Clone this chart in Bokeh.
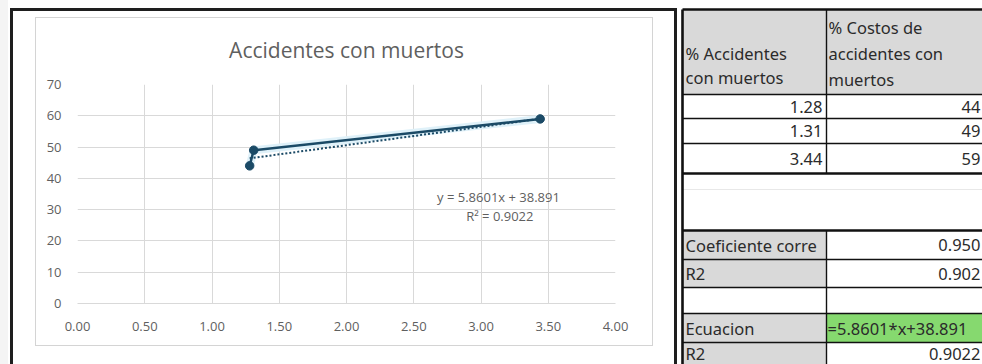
from bokeh.plotting import figure
from bokeh.models import Range1d, FixedTicker, Label, ColumnDataSource
from bokeh.layouts import row, column
from bokeh.core.properties import value
from bokeh.embed import file_html
from bokeh.resources import INLINE

# ---------------- data ----------------
acc_pct = [1.28, 1.31, 3.44]          # % Accidentes con muertos
cost_pct = [44, 49, 59]               # % Costos de accidentes con muertos
trend_slope = 5.8601
trend_intercept = 38.891
trend_r2 = 0.9022

x_ticks = [0.0, 0.5, 1.0, 1.5, 2.0, 2.5, 3.0, 3.5, 4.0]
x_tick_labels = ["0.00", "0.50", "1.00", "1.50", "2.00", "2.50", "3.00", "3.50", "4.00"]
y_ticks = [0, 10, 20, 30, 40, 50, 60, 70]
y_tick_labels = ["0", "10", "20", "30", "40", "50", "60", "70"]

title_text = "Accidentes con muertos"
header_a = ["% Accidentes", "con muertos"]
header_b = ["% Costos de", "accidentes con", "muertos"]
stat_labels = ["Coeficiente corre", "R2", "", "Ecuacion", "R2"]
stat_values = ["0.950", "0.902", "", "=5.8601*x+38.891", "0.9022"]

# ---------------- styles ----------------
SERIES = "#1b4a66"
GRID = "#d9d9d9"
TXT = "#5f5f5f"
FONT = "Open Sans"
TFONT = "Noto Sans"

CW, CH = 677, 364
# frame lines painted behind a transparent canvas: (x, y, w, h, colour)
frame_bars = [
    (10, 8, 3, 360, "#1e1e1e"), (10, 8, 667, 3, "#1e1e1e"), (674, 8, 3, 360, "#1e1e1e"),
    (35, 17, 618, 1, "#d4d4d4"), (35, 345, 618, 1, "#d4d4d4"),
    (35, 17, 1, 329, "#d4d4d4"), (652, 17, 1, 329, "#d4d4d4"),
    (0, 0, 8, 364, "#f4f4f4"),
]
bg_styles = {
    "background-color": "white",
    "background-image": ", ".join(f"linear-gradient({c},{c})" for *_, c in frame_bars),
    "background-position": ", ".join(f"{x}px {y}px" for x, y, *_ in frame_bars),
    "background-size": ", ".join(f"{w}px {h}px" for _, _, w, h, _ in frame_bars),
    "background-repeat": "no-repeat",
}

# ---------------- chart ----------------
p = figure(width=CW, height=CH, x_range=Range1d(0, 4), y_range=Range1d(0, 70),
           output_backend="svg", toolbar_location=None,
           min_border_left=77, min_border_right=62, min_border_top=84, min_border_bottom=61,
           styles=bg_styles)
p.border_fill_color = None
p.background_fill_color = "white"
p.title.text = title_text
p.title.align = "center"
p.title.text_font = FONT
p.title.text_font_size = "21px"
p.title.text_font_style = "normal"
p.title.text_color = TXT
p.title.standoff = 42
p.outline_line_color = None

p.xaxis.ticker = FixedTicker(ticks=x_ticks)
p.yaxis.ticker = FixedTicker(ticks=y_ticks)
p.xaxis.major_label_overrides = {t: l for t, l in zip(x_ticks, x_tick_labels)}
p.yaxis.major_label_overrides = {t: l for t, l in zip(y_ticks, y_tick_labels)}
for ax in (p.xaxis, p.yaxis):
    ax.major_tick_line_color = None
    ax.minor_tick_line_color = None
    ax.major_label_text_font = FONT
    ax.major_label_text_font_size = "13px"
    ax.major_label_text_color = TXT
p.xaxis.axis_line_color = GRID
p.yaxis.axis_line_color = None
p.xaxis.major_label_standoff = 12
p.yaxis.major_label_standoff = 10
p.xgrid.ticker = FixedTicker(ticks=x_ticks)
p.ygrid.ticker = FixedTicker(ticks=y_ticks)
p.xgrid.grid_line_color = GRID
p.ygrid.grid_line_color = GRID

trend_x = [min(acc_pct), max(acc_pct)]
trend_y = [trend_slope * x + trend_intercept for x in trend_x]

p.line(acc_pct, cost_pct, line_color="#dff1f9", line_width=8)
p.line(trend_x, trend_y, line_color=SERIES, line_width=2, line_dash="2 2")
p.line(acc_pct, cost_pct, line_color=SERIES, line_width=2.5)
p.scatter(acc_pct, cost_pct, size=8.5, fill_color=SERIES, line_color=SERIES)

eq1 = f"y = {trend_slope}x + {trend_intercept}"
eq2 = f"R² = {trend_r2}"
p.add_layout(Label(x=3.13, y=33.9, text=eq1, text_align="center", text_baseline="middle",
                   text_font=FONT, text_font_size="13px", text_color=TXT))
p.add_layout(Label(x=3.14, y=28.1, text=eq2, text_align="center", text_baseline="middle",
                   text_font=FONT, text_font_size="13px", text_color=TXT))

# ---------------- table ----------------
TW, TH = 305, 364
t = figure(width=TW, height=TH, x_range=Range1d(0, TW), y_range=Range1d(TH, 0),
           output_backend="svg", toolbar_location=None, x_axis_type=None, y_axis_type=None,
           min_border=0)
t.outline_line_color = None
t.xgrid.grid_line_color = None
t.ygrid.grid_line_color = None

X0, XS, XR = 5, 149, TW + 5
top_edges = [9, 94, 118, 143, 173]
stat_edges = [230, 259, 287, 313, 342, 372]

# fills
t.quad(left=[X0], right=[XR], top=[top_edges[0]], bottom=[top_edges[1]], fill_color="#d9d9d9", line_color=None)
for i, lab in enumerate(stat_labels):
    if lab:
        t.quad(left=[X0], right=[XS], top=[stat_edges[i]], bottom=[stat_edges[i + 1]],
               fill_color="#d9d9d9", line_color=None)
    if stat_values[i].startswith("="):
        t.quad(left=[XS], right=[XR], top=[stat_edges[i]], bottom=[stat_edges[i + 1]],
               fill_color="#86d96f", line_color=None)

# faint sheet gridline in the blank rows
t.segment(x0=[X0], y0=[189], x1=[XR], y1=[189], line_color="#e8e8e8", line_width=1)

# borders
thin = top_edges[1:-1] + stat_edges[1:-1]
thick = [top_edges[0], top_edges[-1], stat_edges[0]]
t.segment(x0=[X0] * len(thin), y0=thin, x1=[XR] * len(thin), y1=thin, line_color="#111111", line_width=1.5)
t.segment(x0=[X0] * len(thick), y0=thick, x1=[XR] * len(thick), y1=thick, line_color="#111111", line_width=2.5)
t.segment(x0=[X0], y0=[top_edges[0]], x1=[X0], y1=[TH], line_color="#111111", line_width=2.6)
t.segment(x0=[XS, XS], y0=[top_edges[0], stat_edges[0]], x1=[XS, XS], y1=[top_edges[-1], TH],
          line_color="#111111", line_width=1.4)

tf = value(TFONT)
def put(xs, ys, texts, align):
    src = ColumnDataSource(dict(x=xs, y=ys, text=texts))
    t.text("x", "y", text="text", source=src, text_align=align, text_baseline="middle",
           text_font=tf, text_font_size="16.5px", text_color="#2b2b2b")

put([X0 + 3] * 2, [53, 77], header_a, "left")
put([XS + 2] * 3, [27, 53, 79], header_b, "left")
mids = [(top_edges[i + 1] + top_edges[i + 2]) / 2 for i in range(len(acc_pct))]
put([XS - 4] * len(acc_pct), mids, [f"{v:.2f}" for v in acc_pct], "right")
put([TW - 2] * len(cost_pct), mids, [str(v) for v in cost_pct], "right")
smids = [(stat_edges[i] + stat_edges[i + 1]) / 2 for i in range(len(stat_labels))]
smids[-1] = 353
put([X0 + 3] * len(stat_labels), smids, stat_labels, "left")
rv = [(s, y) for s, y in zip(stat_values, smids) if s and not s.startswith("=")]
put([TW - 2] * len(rv), [y for _, y in rv], [s for s, _ in rv], "right")
lv = [(s, y) for s, y in zip(stat_values, smids) if s.startswith("=")]
put([XS + 1] * len(lv), [y for _, y in lv], [s for s, _ in lv], "left")

layout = row(column(p), column(t), spacing=0)
open("out.html", "w").write(file_html(layout, INLINE))
